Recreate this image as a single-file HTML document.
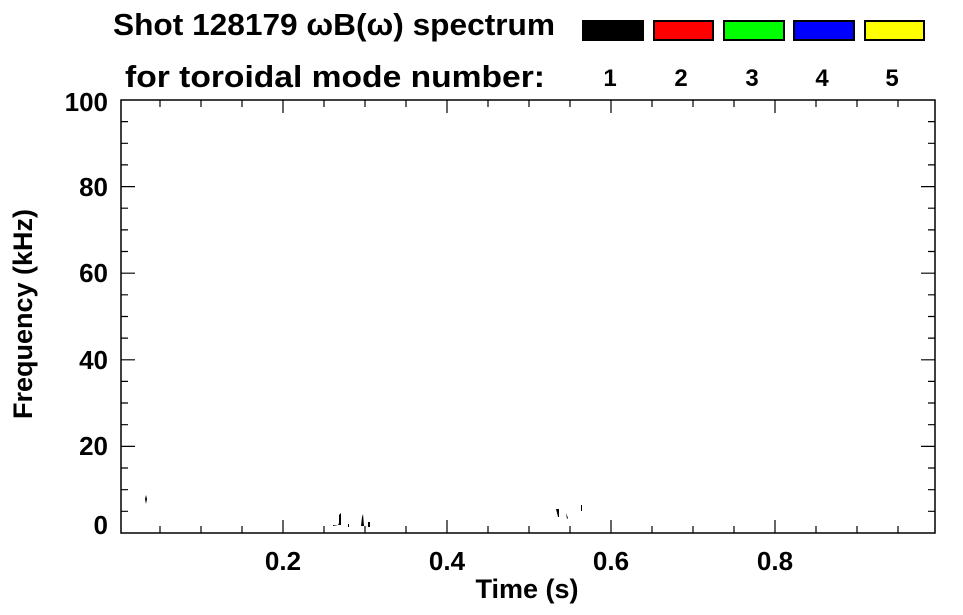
<!DOCTYPE html>
<html><head><meta charset="utf-8"><style>body{margin:0;background:#fff}svg{display:block}</style></head><body>
<svg width="963" height="615" viewBox="0 0 963 615" font-family="Liberation Sans, sans-serif" font-weight="bold">
<rect width="963" height="615" fill="#fff"/>
<text x="113" y="35" font-size="31" textLength="442" lengthAdjust="spacingAndGlyphs">Shot 128179 ωB(ω) spectrum</text>
<text x="125" y="87" font-size="31" textLength="420" lengthAdjust="spacingAndGlyphs">for toroidal mode number:</text>
<g stroke="#000" stroke-width="2">
<rect x="583" y="21" width="60" height="19" fill="#000"/>
<rect x="654" y="21" width="59" height="19" fill="#f00"/>
<rect x="724" y="21" width="60" height="19" fill="#0f0"/>
<rect x="794" y="21" width="60" height="19" fill="#00f"/>
<rect x="865" y="21" width="59" height="19" fill="#ff0"/>
</g>
<g font-size="24" text-anchor="middle">
<text x="610" y="86">1</text><text x="681" y="86">2</text><text x="752" y="86">3</text><text x="822" y="86">4</text><text x="892" y="86">5</text>
</g>
<rect x="121" y="100" width="814" height="433" fill="none" stroke="#000" stroke-width="1.5"/>
<g stroke="#000" stroke-width="1.2">
<path d="M160,533v-7M201,533v-7M242,533v-7M283,533v-13M324,533v-7M365,533v-7M406,533v-7M447,533v-13M488,533v-7M529,533v-7M570,533v-7M611,533v-13M652,533v-7M693,533v-7M734,533v-7M775,533v-13M816,533v-7M857,533v-7M898,533v-7"/>
<path d="M160,100v7M201,100v7M242,100v7M283,100v13M324,100v7M365,100v7M406,100v7M447,100v13M488,100v7M529,100v7M570,100v7M611,100v13M652,100v7M693,100v7M734,100v7M775,100v13M816,100v7M857,100v7M898,100v7"/>
<path d="M121,511.3h7M121,489.7h7M121,468h7M121,446.4h14M121,424.7h7M121,403h7M121,381.4h7M121,359.8h14M121,338.1h7M121,316.5h7M121,294.8h7M121,273.2h14M121,251.5h7M121,229.9h7M121,208.2h7M121,186.6h14M121,164.9h7M121,143.3h7M121,121.6h7"/>
<path d="M935,511.3h-7M935,489.7h-7M935,468h-7M935,446.4h-14M935,424.7h-7M935,403h-7M935,381.4h-7M935,359.8h-14M935,338.1h-7M935,316.5h-7M935,294.8h-7M935,273.2h-14M935,251.5h-7M935,229.9h-7M935,208.2h-7M935,186.6h-14M935,164.9h-7M935,143.3h-7M935,121.6h-7"/>
</g>
<g font-size="26" text-anchor="end">
<text x="108" y="534">0</text><text x="108" y="455">20</text><text x="108" y="369">40</text><text x="108" y="282">60</text><text x="108" y="196">80</text><text x="108" y="111">100</text>
</g>
<g font-size="26" text-anchor="middle">
<text x="283" y="570">0.2</text><text x="447" y="570">0.4</text><text x="611" y="570">0.6</text><text x="775" y="570">0.8</text>
</g>
<text x="527" y="598" font-size="27" text-anchor="middle">Time (s)</text>
<text transform="translate(32,314) rotate(-90)" font-size="27" text-anchor="middle">Frequency (kHz)</text>
<g fill="#000">
<path d="M145,499l1,-4l1,4l-1,5z"/>
<path d="M333,526l5,-1l1,-2l0,-8l2,-2l0,12h-8z"/>
<path d="M348,524h1v3h-1z"/>
<path d="M361,526l1,-9l1,-3l1,12z"/>
<path d="M368,522h2v5h-2z"/>
<path d="M556,509h3v8h-1z"/>
<path d="M566,513l2,5l-1,1z"/>
<path d="M581,505h1v6h-1z"/>
</g>
</svg>
</body></html>
